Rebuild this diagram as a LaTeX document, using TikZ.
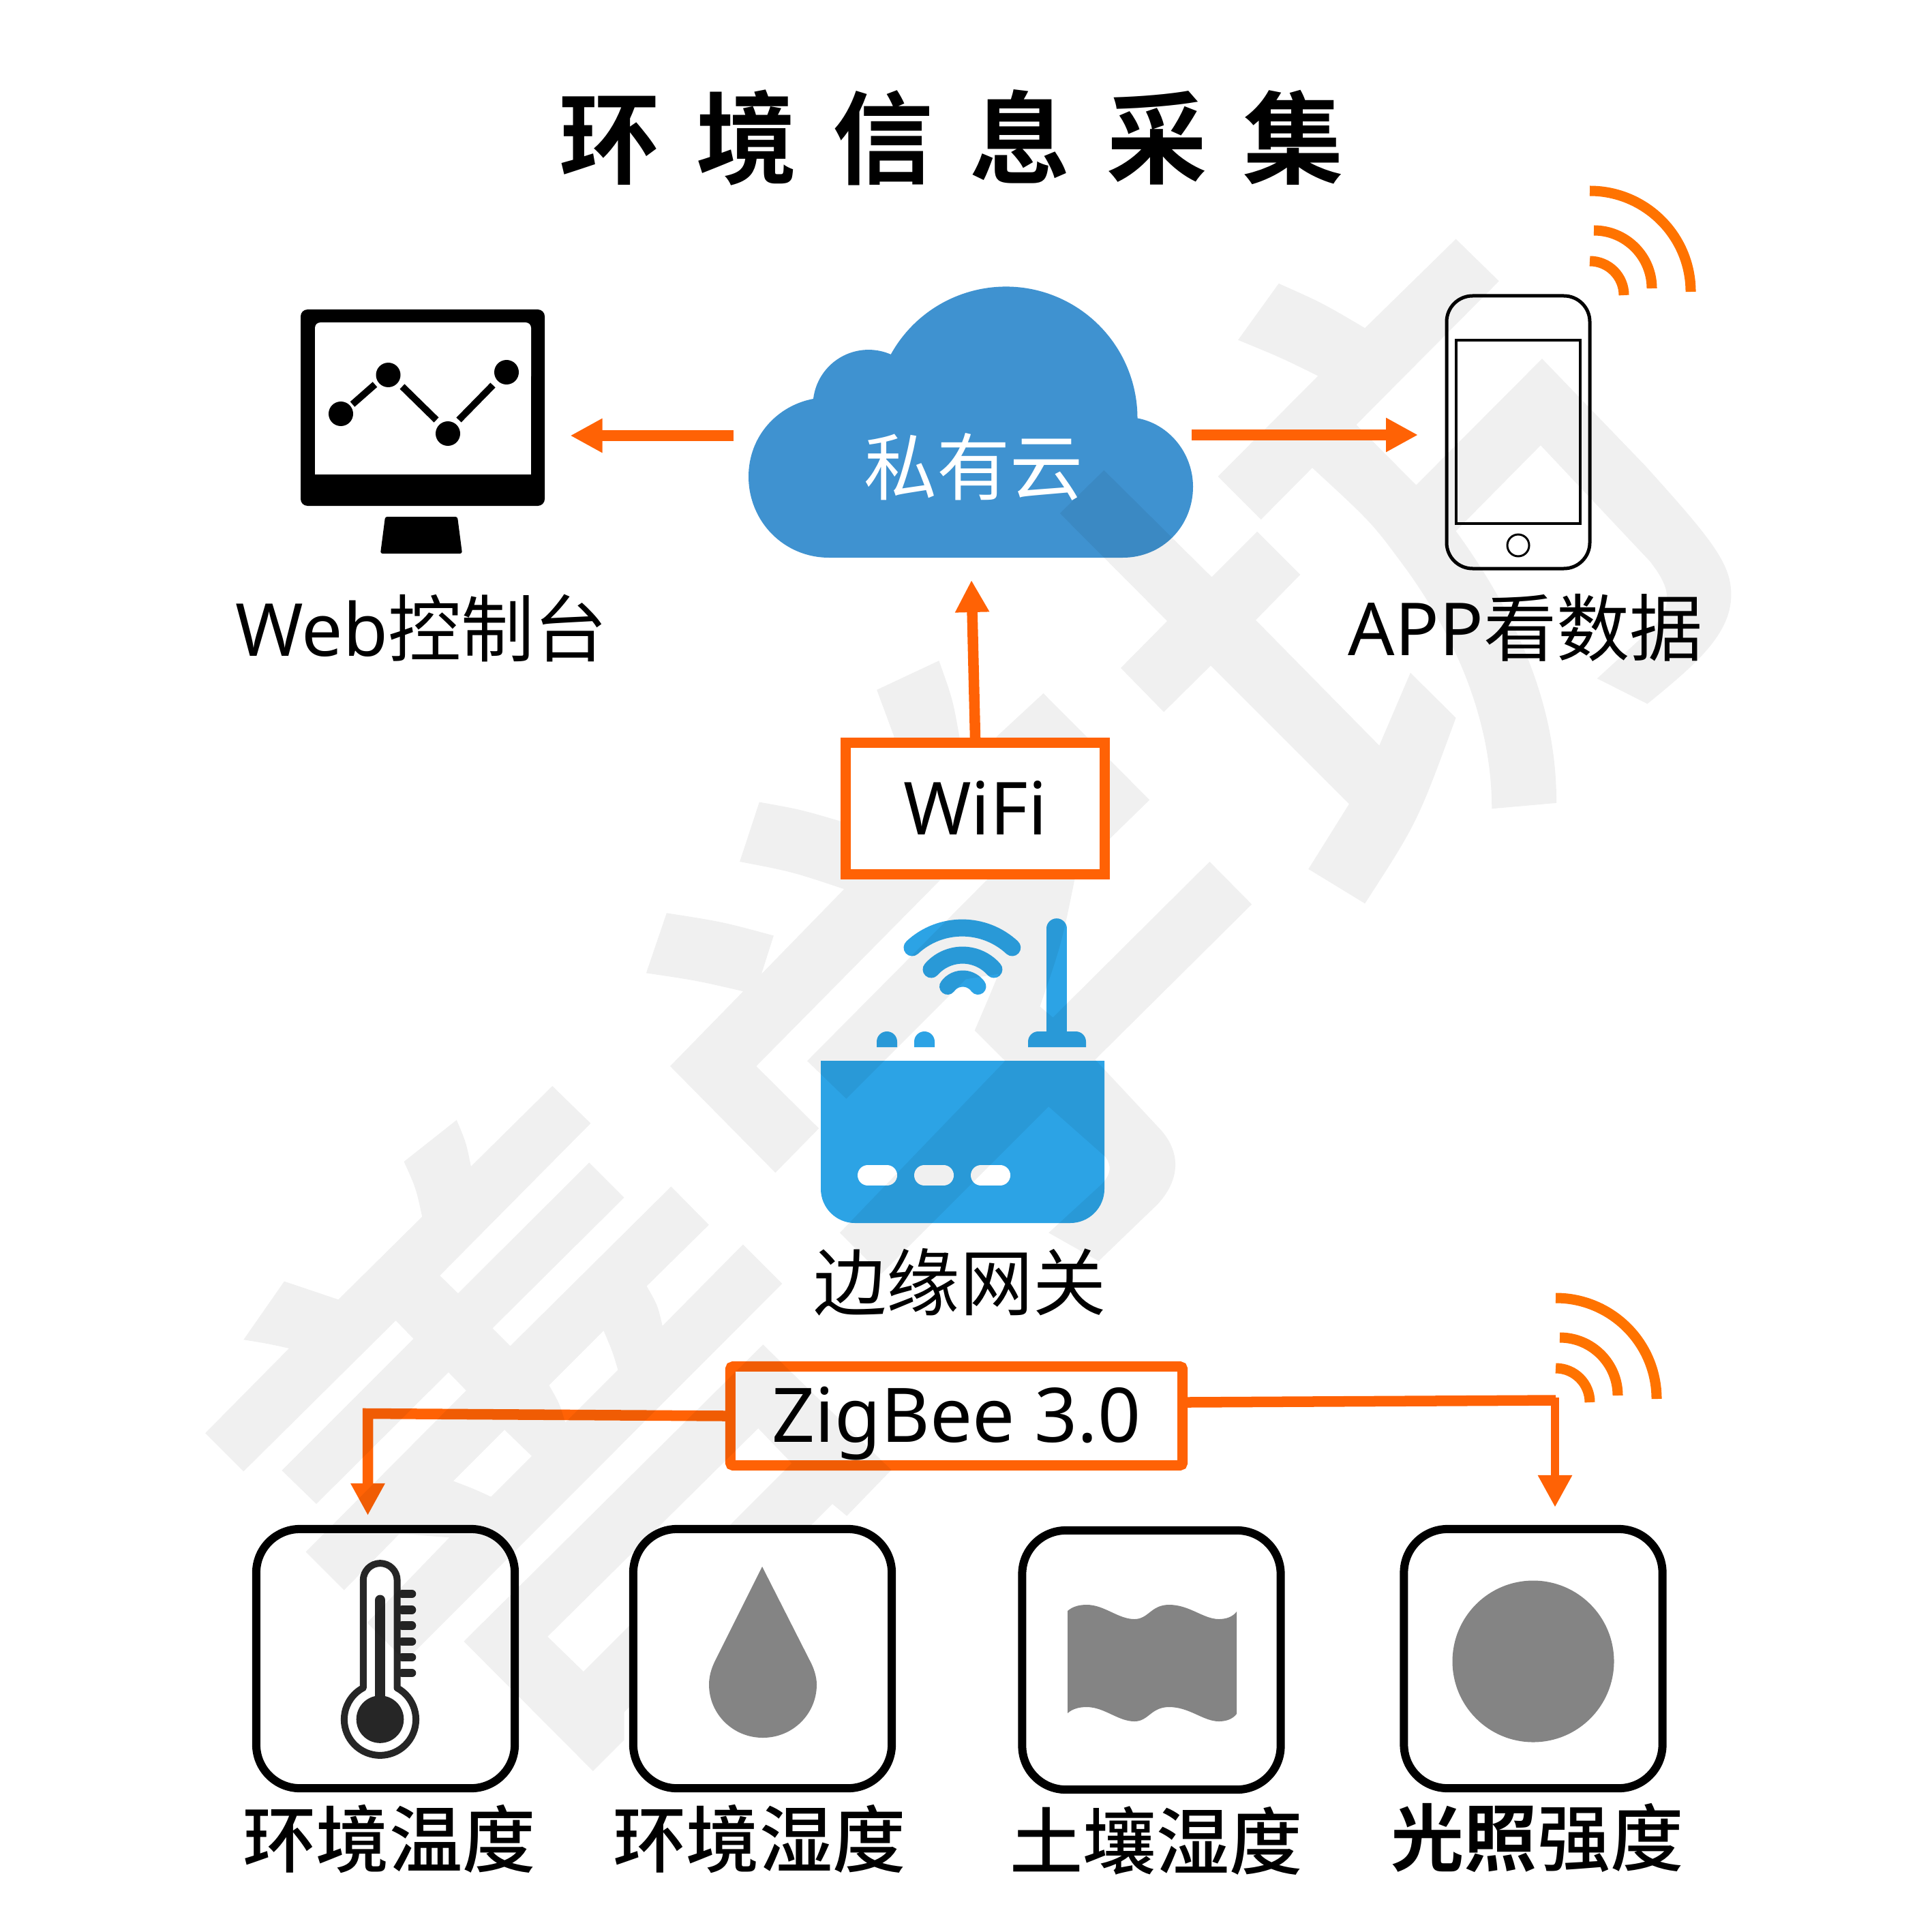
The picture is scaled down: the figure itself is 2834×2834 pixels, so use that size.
\documentclass[tikz,border=0pt]{standalone}
\usepackage{fontspec}
\usetikzlibrary{arrows.meta}
\setmainfont{Noto Sans}
\newfontfamily\cjk{Noto Sans CJK SC}
\newfontfamily\cjkm{Noto Sans CJK SC Medium}
\newfontfamily\cjkb{Noto Sans CJK SC Bold}

\definecolor{wireorange}{HTML}{FF6205}
\definecolor{signalorange}{HTML}{FF7300}
\definecolor{cloudblue}{HTML}{3F92D0}
\definecolor{routerblue}{HTML}{2CA3E5}
\definecolor{sensorgray}{HTML}{848484}
\definecolor{thermodark}{HTML}{262626}

\tikzset{
  wire/.style={draw=wireorange, line width=0.155cm, -{Triangle[length=0.47cm,width=0.47cm]}},
  thinwire/.style={draw=wireorange, line width=0.12cm, -{Triangle[length=0.47cm,width=0.47cm]}},
  signal/.style={draw=signalorange, line width=0.15cm},
  protobox/.style={draw=wireorange, line width=0.15cm, inner sep=0pt, text height=0.76cm, text depth=0pt},
  sensorbox/.style={draw=black, line width=0.12cm, rounded corners=0.64cm, inner sep=0pt,
                    minimum width=3.79cm, minimum height=3.8cm},
  caption/.style={font=\fontsize{30.5}{32}\selectfont, inner sep=0pt},
  wmshade/.style={fill=black, fill opacity=0.06},
}

\begin{document}
\begin{tikzpicture}[x=0.01cm, y=-0.01cm]

\useasboundingbox (0,0) rectangle (2834,2834);
\fill[white] (0,0) rectangle (2834,2834);

% draw the cloud
\fill[cloudblue] (1216,818) .. controls (1150,818) and (1098,765) .. (1098,699) ..
                 controls (1098,640) and (1140,595) .. (1193,585)
                 arc[start angle=186.8, end angle=293.6, radius=81.6]
                 arc[start angle=209, end angle=360, radius=193]
                 .. controls (1715,622) and (1750,665) .. (1750,714) ..
                 controls (1750,772) and (1705,818) .. (1647,818) -- cycle;

% draw the monitor
\fill[black, rounded corners=0.1cm] (441,454) rectangle (799,742);
\fill[white, rounded corners=0.08cm] (462,473) rectangle (779,560);
\fill[white] (462,490) rectangle (779,696);
\fill[black, rounded corners=0.03cm] (565,758) -- (671,758) -- (678,812) -- (558,812) -- cycle;
\foreach \dotx/\doty in {500/607, 569.5/550, 657/636, 743/546}
  \fill[black] (\dotx,\doty) circle[radius=18];
\draw[black, line width=0.1cm] (517,593) -- (550,564);
\draw[black, line width=0.1cm] (590,567) -- (640,616);
\draw[black, line width=0.1cm] (673,616) -- (723,565);

% draw the phone
\draw[black, line width=0.05cm, rounded corners=0.38cm] (2122,434) rectangle (2332,834);
\draw[black, line width=0.04cm] (2136,499) rectangle (2318,768);
\draw[black, line width=0.03cm] (2227,800) circle[radius=16];

% draw the signal marks
\foreach \shiftx/\shifty in {0/0, -50/1624} {
  \begin{scope}[shift={(\shiftx,\shifty)}]
    \draw[signal] (2332,280) arc[start angle=270, end angle=360, radius=148];
    \draw[signal] (2338,338) arc[start angle=270, end angle=360, radius=85];
    \draw[signal] (2332,383) arc[start angle=270, end angle=360, radius=50];
  \end{scope}
}

% draw the router
\fill[routerblue] (1204,1556) -- (1620,1556) -- (1620,1744)
                  arc[start angle=0, end angle=90, radius=50] -- (1254,1794)
                  arc[start angle=90, end angle=180, radius=50] -- cycle;
\foreach \slotx in {1258, 1341, 1424}
  \draw[white, line width=0.3cm, line cap=round] (\slotx+15,1724) -- (\slotx+43,1724);
\foreach \nubx in {1286, 1341}
  \fill[routerblue] (\nubx,1536) -- (\nubx,1528)
                    arc[start angle=180, end angle=360, radius=15] -- (\nubx+30,1536) -- cycle;
\fill[routerblue] (1508,1536) -- (1508,1528) arc[start angle=180, end angle=270, radius=15] --
                  (1578,1513) arc[start angle=270, end angle=360, radius=15] -- (1593,1536) -- cycle;
\draw[routerblue, line width=0.296cm, line cap=round] (1550,1362) -- (1550,1520);
\draw[routerblue, line width=0.25cm, line cap=round] (1338,1390) arc[start angle=227, end angle=313, radius=107.6];
\draw[routerblue, line width=0.25cm, line cap=round] (1366,1422) arc[start angle=221, end angle=319, radius=60.9];
\draw[routerblue, line width=0.24cm, line cap=round] (1390,1447) arc[start angle=215.4, end angle=324.6, radius=27.3];

% draw the zigbee box and its wires
\node[protobox, rounded corners=0.04cm, minimum width=6.63cm, minimum height=1.45cm] (zigbox) at (1403,2077)
  {\fontsize{31.4}{33}\selectfont ZigBee 3.0};
\coordinate (thermotop) at (539.5,2223);
\coordinate (leftturn) at (539.5,2073.5);
\coordinate (rightturn) at (2282,2054);
\coordinate (zigout) at (1742,2057);
\coordinate (lighttop) at (2281,2211);
\draw[wire] (zigbox.west) -- (leftturn) -- (thermotop);

% draw the temperature sensor
\node[sensorbox] (tempbox) at (565.5,2433) {};
\draw[thermodark, line width=0.1cm, line join=round] (532.8,2476) -- (532.8,2318)
     arc[start angle=180, end angle=360, radius=24.9] -- (582.5,2476)
     arc[start angle=-61.6, end angle=241.6, radius=52.6] -- cycle;
\draw[thermodark, line width=0.15cm, line cap=round] (557.7,2347) -- (557.7,2500);
\fill[thermodark] (557.5,2522) circle[radius=34.8];
\foreach \ticky in {2338, 2361.5, 2384.5, 2408, 2431, 2454}
  \draw[thermodark, line width=0.126cm, line cap=round] (590,\ticky) -- (604,\ticky);

% draw the watermark
\begin{scope}[shift={(1500,300)}, x=0.007015cm, y=-0.007015cm]
  \fill[wmshade] (450,283) -- (535,165) .. controls (625,205) .. (715,258) -- (905,72) -- (995,160) --
     (697,460) -- (822,586) -- (1085,322) -- (1300,545) .. controls (1440,700) and (1480,750) ..
     (1480,815) .. controls (1480,900) and (1400,965) .. (1305,1043) -- (1200,990) -- (1320,880) ..
     controls (1365,830) and (1345,790) .. (1310,745) -- (1082,503) -- (905,682) ..
     controls (1100,950) and (1115,1150) .. (1115,1250) -- (980,1262) ..
     controls (980,1050) and (880,870) .. (800,760) .. controls (730,665) .. (605,550) --
     (498,658) -- (408,568) -- (617,358) .. controls (540,320) .. (450,283) -- cycle;
  \fill[wmshade] (170,555) -- (395,778) -- (490,683) -- (580,773) -- (487,868) -- (745,1130) --
     (810,978) -- (905,1072) .. controls (825,1290) .. (715,1460) -- (597,1388) -- (682,1252) --
     (393,963) -- (295,1060) -- (205,968) -- (302,870) -- (78,645) -- cycle;
\end{scope}
\begin{scope}[shift={(900,950)}, x=0.006378cm, y=-0.006378cm]
  \fill[wmshade] (605,97) -- (748,30) .. controls (780,120) .. (795,205) -- (795,300) -- (750,535) --
     (328,962) -- (472,1105) -- (372,1207) -- (130,962) -- (298,790) .. controls (190,765) .. (75,748) --
     (122,610) .. controls (250,630) .. (368,662) -- (340,750) -- (530,555) .. controls (410,515) ..
     (290,492) -- (335,355) .. controls (430,372) .. (525,400) -- (645,205) -- cycle;
  \fill[wmshade] (860,532) -- (880,205) -- (988,105) -- (1232,350) -- (1145,435) -- (1060,532) ..
     controls (1030,680) .. (980,825) -- (1010,850) -- (1370,492) -- (1467,590) -- (1107,947) --
     (1250,1100) .. controls (1300,1150) and (1310,1215) .. (1250,1280) -- (1115,1410) -- (1000,1345) --
     (1120,1235) .. controls (1145,1210) and (1145,1190) .. (1130,1170) -- (1000,1055) -- (615,1440) --
     (520,1345) -- (900,950) -- (830,880) .. controls (860,810) .. (885,750) -- (810,762) -- (535,1037) --
     (445,950) -- cycle;
\end{scope}
\begin{scope}[shift={(280,1560)}, x=0.007015cm, y=-0.007015cm]
  \fill[wmshade, even odd rule] (195,455) -- (308,493) -- (483,320) .. controls (470,260) .. (445,205) --
     (555,118) .. controls (575,165) .. (585,215) -- (755,47) -- (835,125) -- (520,443) -- (558,480) --
     (832,207) -- (905,280) -- (630,553) -- (667,590) -- (1003,257) -- (1082,337) -- (952,465) ..
     controls (975,505) .. (985,548) -- (1153,378) -- (1235,460) -- (469,1227) -- (448,1248) -- (368,1168) --
     (540,990) -- (436,982) -- (320,1100) -- (240,1020) -- (575,683) -- (538,645) -- (262,920) --
     (190,850) -- (465,575) -- (428,537) -- (110,852) -- (30,772) -- (205,595) .. controls (160,585) ..
     (110,577) -- cycle
     (862,558) .. controls (880,600) .. (892,640) -- (782,750) .. controls (770,710) .. (748,672) -- cycle
     (655,765) -- (712,820) -- (627,905) .. controls (590,888) .. (548,872) -- cycle;
  \fill[wmshade, even odd rule] (1195,587) -- (1463,849) -- (1370,945) -- (1340,920) -- (905,1355) --
     (905,1413) -- (840,1478) -- (570,1207) -- cycle
     (1185,762) -- (745,1197) -- (820,1270) -- (1255,835) -- cycle;
\end{scope}

% draw the boxes that hide the watermark
\node[protobox, fill=white, minimum width=3.795cm, minimum height=1.92cm] (wifibox) at (1430.5,1186)
  {\fontsize{30.5}{32}\selectfont WiFi};
\node[sensorbox, fill=white] (humbox) at (1118.5,2433) {};
\node[sensorbox, fill=white] (soilbox) at (1689,2435) {};
\node[sensorbox, fill=white] (lightbox) at (2249,2433) {};

% draw the sensor icons
\fill[sensorgray] (1118,2298) -- (1049,2436) .. controls (1043,2448) and (1040,2460) .. (1040,2471) ..
                  controls (1040,2514) and (1075,2549) .. (1119,2549) ..
                  controls (1163,2549) and (1198,2514) .. (1198,2471) ..
                  controls (1198,2460) and (1194,2447) .. (1188,2436) -- cycle;
\fill[sensorgray] (1566,2363) .. controls (1574,2356) and (1584,2354) .. (1594,2354) ..
                  controls (1620,2354) and (1640,2375) .. (1664,2375) ..
                  controls (1685,2375) and (1688,2354) .. (1715,2354) ..
                  controls (1745,2354) and (1765,2375) .. (1788,2375) ..
                  controls (1798,2375) and (1808,2372) .. (1814,2364) -- (1814,2514) ..
                  controls (1808,2522) and (1798,2525) .. (1788,2525) ..
                  controls (1765,2525) and (1745,2504) .. (1715,2504) ..
                  controls (1688,2504) and (1685,2525) .. (1664,2525) ..
                  controls (1640,2525) and (1620,2504) .. (1594,2504) ..
                  controls (1584,2504) and (1574,2506) .. (1566,2513) -- cycle;
\fill[sensorgray] (2249,2437) circle[radius=118.5];

% draw the arrows
\coordinate (cloudleft) at (1076,639);
\coordinate (monitorright) at (836.5,639);
\coordinate (cloudright) at (1748,638);
\coordinate (phoneleft) at (2080,638);
\coordinate (cloudbottom) at (1425,851);
\draw[wire] (cloudleft) -- (monitorright);
\draw[wire] (cloudright) -- (phoneleft);
\draw[wire] (wifibox.north) -- (cloudbottom);
\draw[wire, -] (zigout) -- (rightturn);
\draw[thinwire] (2281,2050) -- (lighttop);

% draw some labels
\node[font=\cjkb\fontsize{42}{44}\selectfont, inner sep=0pt] (title) at (1396,202)
  {\spaceskip=0.53cm 环 境 信 息 采 集};
\node[caption, white] (cloudlab) at (1428,685) {\cjk 私有云};
\node[caption] (weblab) at (618,921) {Web{\cjk 控制台}};
\node[caption] (applab) at (2238,921) {APP{\cjk 看数据}};
\node[caption] (gatelab) at (1408,1881) {\cjk 边缘网关};
\node[caption] (templab) at (571,2697) {\cjkm 环境温度};
\node[caption] (humlab) at (1114,2697) {\cjkm 环境湿度};
\node[caption] (soillab) at (1696,2700) {\cjkm 土壤湿度};
\node[caption] (lightlab) at (2255,2696) {{\cjkb 光照}\cjkm 强度};

\end{tikzpicture}
\end{document}
